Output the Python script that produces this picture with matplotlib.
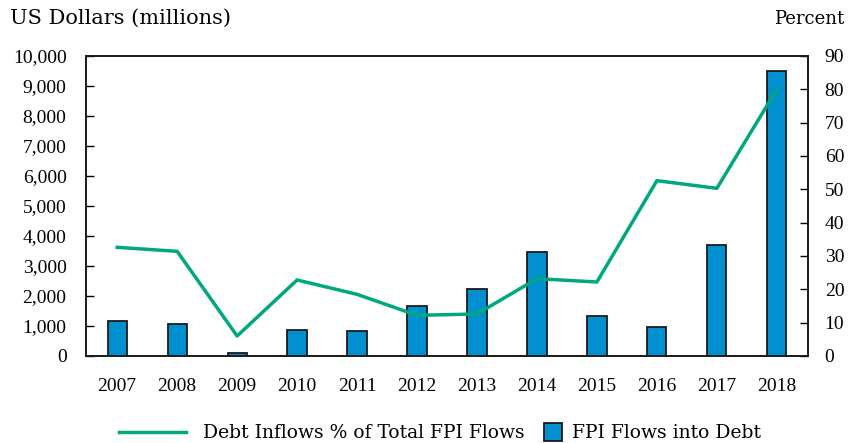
import matplotlib
matplotlib.use("Agg")
import matplotlib.pyplot as plt
from matplotlib.lines import Line2D
from matplotlib.patches import Patch, Rectangle
from matplotlib.legend_handler import HandlerPatch
from matplotlib.ticker import FuncFormatter

years = ["2007", "2008", "2009", "2010", "2011", "2012",
         "2013", "2014", "2015", "2016", "2017", "2018"]
debt_flows = [1170, 1050, 90, 880, 825, 1650, 2230, 3470, 1340, 950, 3700, 9500]
debt_share_pct = [32.6, 31.4, 6.0, 22.8, 18.5, 12.2, 12.6, 23.2, 22.2, 52.6, 50.3, 80.0]

plt.rcParams["font.family"] = ["Liberation Serif", "DejaVu Serif"]
FS = 14
TEXT_FONT = ["DejaVu Serif"]

bar_color = "#0090CF"
line_color = "#00A77F"


class SquarePatchHandler(HandlerPatch):
    """Draws the bar legend key as a small square near its label."""

    def create_artists(self, legend, orig_handle, xdescent, ydescent,
                       width, height, fontsize, trans):
        side = height * 1.35
        x0 = width - side - xdescent + fontsize * 0.37
        rect = Rectangle((x0, -ydescent - (side - height) / 2),
                         side, side,
                         facecolor=orig_handle.get_facecolor(),
                         edgecolor=orig_handle.get_edgecolor(),
                         linewidth=orig_handle.get_linewidth(),
                         transform=trans)
        return [rect]


fig = plt.figure(figsize=(8.49, 4.43), dpi=100)
ax = fig.add_axes([0.1013, 0.1964, 0.8504, 0.6772])
ax2 = ax.twinx()

x = list(range(len(years)))
ax.bar(x, debt_flows, width=0.32, color=bar_color, edgecolor="#1a1a1a",
       linewidth=1.3, zorder=2)
ax2.plot(x, debt_share_pct, color=line_color, linewidth=2.5, zorder=3)

ax.set_xlim(-0.52, 11.52)
ax.set_ylim(0, 10000)
ax2.set_ylim(0, 90)
ax.set_yticks(range(0, 10001, 1000))
ax2.set_yticks(range(0, 91, 10))
ax.yaxis.set_major_formatter(FuncFormatter(lambda v, p: f"{int(v):,}"))

ax.set_xticks(x)
ax.set_xticklabels(years)
ax.tick_params(axis="x", length=0, pad=16, labelsize=FS)
ax.tick_params(axis="y", direction="in", length=6, width=1, pad=14, labelsize=FS)
ax2.tick_params(axis="y", direction="in", length=6, width=1, pad=12, labelsize=FS)

for a in (ax, ax2):
    for s in a.spines.values():
        s.set_linewidth(1.2)
        s.set_color("#1a1a1a")

fig.text(0.012, 0.958, "US Dollars (millions)", fontsize=15,
         family=TEXT_FONT, ha="left", va="center")
fig.text(0.995, 0.958, "Percent", fontsize=13,
         family=TEXT_FONT, ha="right", va="center")

handles = [Line2D([0], [0], color=line_color, linewidth=2.5),
           Patch(facecolor=bar_color, edgecolor="#1a1a1a", linewidth=1.3)]
labels = ["Debt Inflows % of Total FPI Flows", "FPI Flows into Debt"]
fig.legend(handles, labels, loc="center", bbox_to_anchor=(0.518, 0.022),
           ncol=2, frameon=False, handlelength=3.6,
           columnspacing=-2.0, handletextpad=0.9,
           handler_map={Patch: SquarePatchHandler()},
           prop={"family": TEXT_FONT, "size": 13.5})

fig.savefig("out.png", dpi=100)
